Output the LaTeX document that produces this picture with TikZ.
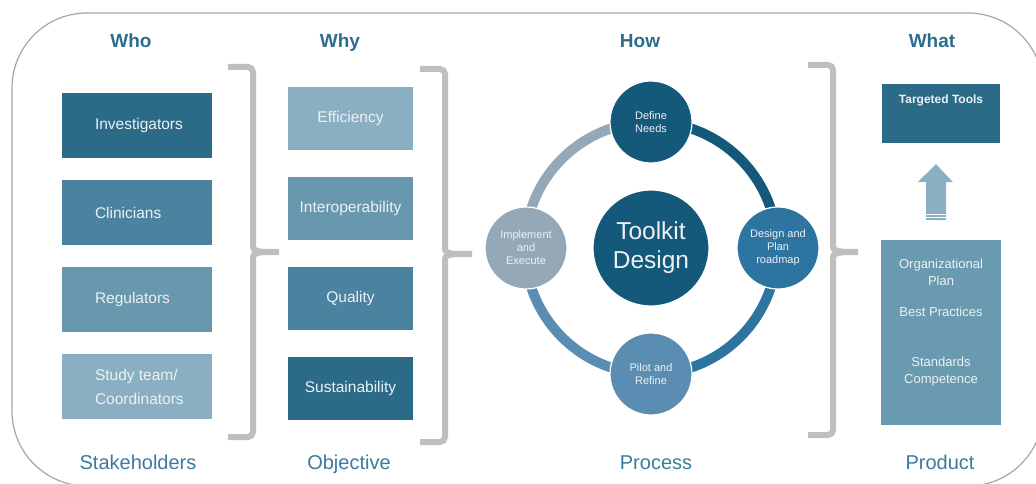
\documentclass[tikz,border=0pt]{standalone}
\usepackage{fontspec}
\setmainfont{Liberation Sans}
\usepackage{tikz}
\usetikzlibrary{calc}
\definecolor{headblue}{HTML}{2C6D8C}
\definecolor{footblue}{HTML}{3A7B9B}
\definecolor{toneA}{HTML}{2C6B88}
\definecolor{toneB}{HTML}{4A829F}
\definecolor{toneC}{HTML}{6798AE}
\definecolor{toneD}{HTML}{8BAFC2}
\definecolor{toneP}{HTML}{6A9AB0}
\definecolor{boxtext}{HTML}{ECF1F4}
\definecolor{cdark}{HTML}{14587A}
\definecolor{cgrey}{HTML}{94A8B8}
\definecolor{cmid}{HTML}{2E74A0}
\definecolor{clight}{HTML}{5B8DB2}
\definecolor{bracegrey}{HTML}{BFBFBF}
\definecolor{framegrey}{HTML}{A6A6A6}
\tikzset{
  head/.style={anchor=base, text=headblue, font=\fontsize{19}{22}\selectfont\bfseries},
  foot/.style={anchor=base, text=footblue, font=\fontsize{20}{24}\selectfont},
  tonebox/.style={rectangle, inner sep=0pt, text=boxtext, font=\fontsize{15.5}{18}\selectfont},
  whobox/.style={tonebox, minimum width=150pt, minimum height=65pt},
  whybox/.style={tonebox, minimum width=125pt, minimum height=63pt},
  whotext/.style={anchor=west, xshift=33pt, inner sep=0pt, align=left, text=boxtext,
    font=\fontsize{15.5}{24}\selectfont},
  stage/.style={circle, minimum size=82pt, inner sep=0pt, draw=white, line width=1.2pt,
    align=center, text=boxtext, font=\fontsize{11}{13}\selectfont},
  hubnode/.style={stage, minimum size=116pt, fill=cdark, font=\fontsize{24.5}{29}\selectfont},
  ring/.style={line width=10pt},
  brace/.style={draw=bracegrey, line width=6pt},
  tooltext/.style={anchor=north, yshift=-11pt, inner sep=0pt, text=boxtext,
    font=\fontsize{12}{14}\selectfont\bfseries},
  prodtext/.style={anchor=center, yshift=10pt, inner sep=0pt, align=center, text=boxtext,
    font=\fontsize{13}{16.5}\selectfont}
}

\begin{document}
\begin{tikzpicture}[x=1pt, y=1pt]
  \useasboundingbox (0,0) rectangle (1036,483);
  \clip (0,0) rectangle (1036,483);
  \draw[framegrey, line width=1.2pt, rounded corners=75pt] (12,-3) rectangle (1043,470);

  \node[head] (who) at (131,435) {Who};
  \node[head] (why) at (340,435) {Why};
  \node[head] (how) at (640,435) {How};
  \node[head] (what) at (932,435) {What};

  \node[foot] (stake) at (138,14) {Stakeholders};
  \node[foot] (objective) at (349,14) {Objective};
  \node[foot] (process) at (656,14) {Process};
  \node[foot] (product) at (940,14) {Product};

  \node[whobox, fill=toneA, label={[whotext]west:Investigators}] (inv) at (137,357.5) {};
  \node[whobox, fill=toneB, label={[whotext]west:Clinicians}] (clin) at (137,270.5) {};
  \node[whobox, fill=toneC, label={[whotext]west:Regulators}] (reg) at (137,183.5) {};
  \node[whobox, fill=toneD, label={[whotext]west:Study team/\\Coordinators}] (team) at (137,96.5) {};

  \node[whybox, fill=toneD] (eff) at (350.5,364.5) {Efficiency};
  \node[whybox, fill=toneC] (interop) at (350.5,275) {Interoperability};
  \node[whybox, fill=toneB] (quality) at (350.5,184.5) {Quality};
  \node[whybox, fill=toneA] (sustain) at (350.5,95) {Sustainability};

  \draw[brace, rounded corners=5pt] (228,416) -- (253,416) -- (253,241) to[out=-90,in=180] (279,231);
  \draw[brace, rounded corners=5pt] (279,231) to[out=180,in=90] (253,221) -- (253,46) -- (228,46);
  \draw[brace, rounded corners=5pt] (420,414) -- (445,414) -- (445,239) to[out=-90,in=180] (472,229);
  \draw[brace, rounded corners=5pt] (472,229) to[out=180,in=90] (445,219) -- (445,41) -- (420,41);
  \draw[brace, rounded corners=5pt] (808,418) -- (833,418) -- (833,241) to[out=-90,in=180] (858,231);
  \draw[brace, rounded corners=5pt] (858,231) to[out=180,in=90] (833,221) -- (833,48) -- (808,48);

  \coordinate (hub) at (651,235);
  \draw[ring, cgrey] (hub) ++(90:126) arc[start angle=90, end angle=180, radius=126];
  \draw[ring, cdark] (hub) ++(0:126) arc[start angle=0, end angle=90, radius=126];
  \draw[ring, cmid] (hub) ++(270:126) arc[start angle=270, end angle=360, radius=126];
  \draw[ring, clight] (hub) ++(180:126) arc[start angle=180, end angle=270, radius=126];

  \node[hubnode] (toolkit) at (hub) {Toolkit\\Design};
  \node[stage, fill=cdark] (define) at (651,361) {Define\\Needs};
  \node[stage, fill=cgrey] (impl) at (526,235) {Implement\\and\\Execute};
  \node[stage, fill=cmid] (plan) at (778,235) {Design and\\Plan\\roadmap};
  \node[stage, fill=clight] (pilot) at (651,109) {Pilot and\\Refine};

  \node[tonebox, fill=toneA, minimum width=118pt, minimum height=59pt,
    label={[tooltext]north:Targeted Tools}] (tools) at (941,369.5) {};
  \node[tonebox, fill=toneP, minimum width=120pt, minimum height=185pt,
    label={[prodtext]center:Organizational\\Plan\\[15pt]Best Practices\\[33.5pt]Standards\\Competence}]
    (prod) at (941,150.5) {};

  \coordinate (arrbase) at ($(prod.north)+(-5,20)$);
  \coordinate (arrtip) at ($(tools.south)+(-5,-21)$);
  \fill[toneD] (arrbase) ++(-10,0) -- ++(0,38) -- ++(-8,0) -- (arrtip) -- ++(17,-18) -- ++(-7,0)
    -- ++(0,-38) -- cycle;
  \draw[white, line width=0.8pt] ($(arrbase)+(-11,5)$) -- ++(22,0);
  \draw[white, line width=0.8pt] ($(arrbase)+(-11,2.3)$) -- ++(22,0);
\end{tikzpicture}
\end{document}
